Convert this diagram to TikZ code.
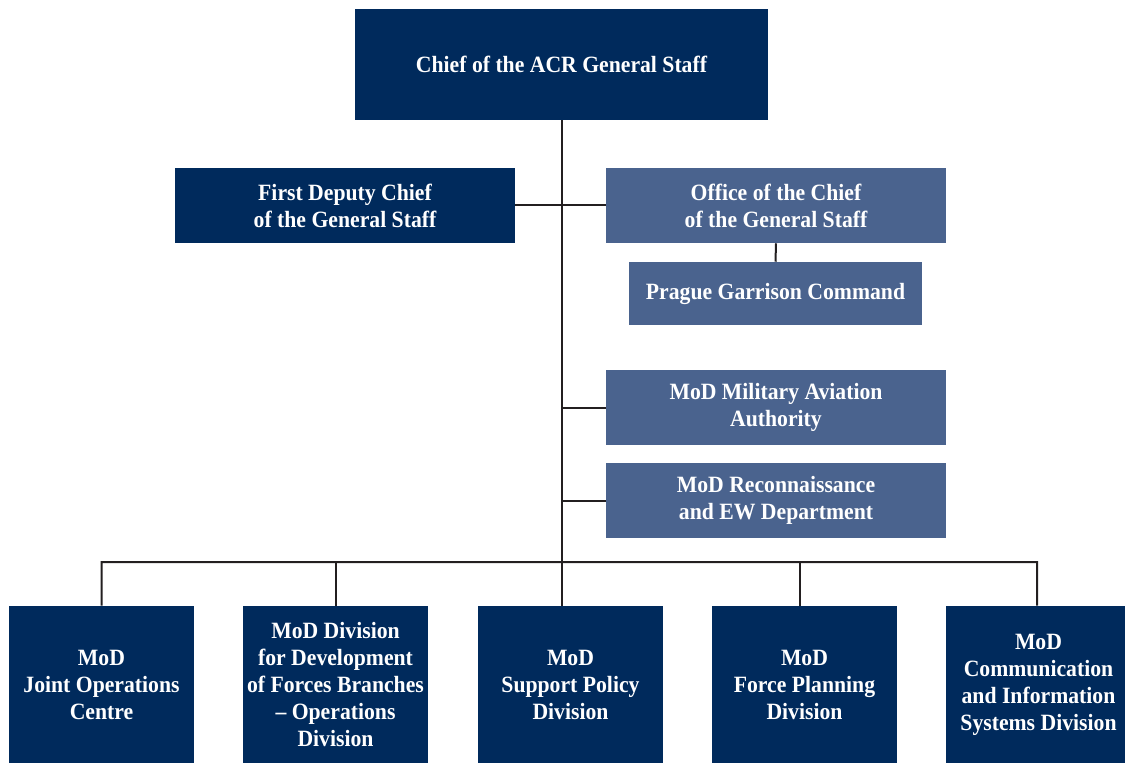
\documentclass[tikz,border=0pt]{standalone}
\usepackage{fontspec}
\setmainfont{Liberation Serif}[FakeStretch=0.93]
\usetikzlibrary{calc}
\definecolor{navy}{HTML}{002A5C}
\definecolor{steel}{HTML}{4A638E}
\definecolor{linegray}{HTML}{231F20}

\begin{document}
\begin{tikzpicture}[x=0.75pt, y=-0.75pt,
    navybox/.style={fill=navy, text=white, inner sep=0pt, align=center,
      font=\fontsize{17.5}{20.25}\selectfont\bfseries,
      execute at begin node={\vspace*{4.5pt}}},
    steelbox/.style={navybox, fill=steel, minimum width=255pt, minimum height=56.25pt},
    unitbox/.style={navybox, minimum width=138.75pt, minimum height=117.75pt},
    link/.style={draw=linegray, line width=1.5pt}]
          \useasboundingbox (0,0) rectangle (1125,763);

          \node [navybox, minimum width=309.75pt, minimum height=83.25pt] (chief) at (561.5,64.5) {Chief of the ACR General Staff};

          \node [navybox, minimum width=255pt, minimum height=56.25pt] (deputy) at (345,205.5) {First Deputy Chief\\of the General Staff};
          \node [steelbox] (office) at (776,205.5) {Office of the Chief\\of the General Staff};
          \node [steelbox, minimum width=219.75pt, minimum height=47.25pt] (prague) at (775.5,293.5) {Prague Garrison Command};
          \node [steelbox] (aviation) at (776,407.5) {MoD Military Aviation\\Authority};
          \node [steelbox] (recon) at (776,500.5) {MoD Reconnaissance\\and EW Department};

          \node [unitbox] (joc) at (101.5,684.5) {MoD\\Joint Operations\\Centre};
          \node [unitbox] (devel) at (335.5,684.5) {MoD Division\\for Development\\of Forces Branches\\-- Operations\\Division};
          \node [unitbox] (support) at (570.5,684.5) {MoD\\Support Policy\\Division};
          \node [unitbox] (planning) at (804.5,684.5) {MoD\\Force Planning\\Division};
          \node [unitbox] (cis) at (1038.5,684.5) {MoD\\Communication\\and Information\\Systems Division};

          \coordinate (bus) at (562,562);

          \draw [link] (chief.south) -- (chief.south |- support.north); % trunk
          \draw [link] (deputy.east) -- (office.west);
          \draw [link] (office.south) -- (prague.north);
          \draw [link] (aviation.west) -- (aviation.west -| chief.south);
          \draw [link] (recon.west) -- (recon.west -| chief.south);

          \draw [link] (joc.north) |- ($(cis.north |- bus)+(-1.5,0)$) -- ([xshift=-1.1pt]cis.north);
          \draw [link] (devel.north) -- (devel.north |- bus);
          \draw [link] ([xshift=-3.4pt]planning.north) -- ([xshift=-3.4pt]planning.north |- bus);
        \end{tikzpicture}
\end{document}
